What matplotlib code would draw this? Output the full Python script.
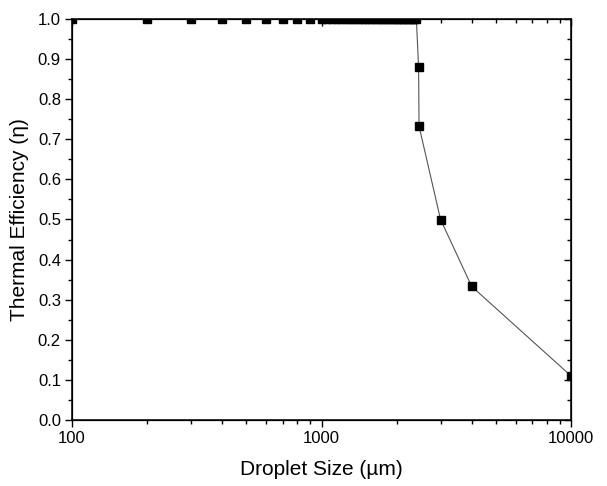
import numpy as np
import matplotlib
matplotlib.use("Agg")
import matplotlib.pyplot as plt
from matplotlib.ticker import LogLocator, MultipleLocator, FixedLocator, NullFormatter

# droplet size (um) and thermal efficiency
sizes_coarse = [100, 200, 300, 400, 500, 600, 700, 800, 900]
sizes_dense = list(range(1000, 2450, 50))
sizes_tail = [2450, 2460, 3000, 4000, 10000]
eff_tail = [0.88, 0.733, 0.50, 0.333, 0.11]

droplet_size = sizes_coarse + sizes_dense + sizes_tail
efficiency = [1.0] * (len(sizes_coarse) + len(sizes_dense)) + eff_tail

plt.rcParams["font.family"] = ["Liberation Sans", "DejaVu Sans"]

fig = plt.figure(figsize=(6.07, 4.86), dpi=100)
ax = fig.add_axes([72 / 607, 1 - 420 / 486, 499 / 607, 401 / 486])

ax.plot(droplet_size, efficiency, color="#555555", linewidth=0.8,
        marker="s", markersize=6, markerfacecolor="black",
        markeredgecolor="black", zorder=3)

ax.set_xscale("log")
ax.set_xlim(100, 10000)
ax.set_ylim(0, 1.0)
ax.yaxis.set_major_locator(MultipleLocator(0.1))
ax.yaxis.set_minor_locator(MultipleLocator(0.05))
ax.xaxis.set_major_locator(FixedLocator([100, 1000, 10000]))
ax.xaxis.set_major_formatter(matplotlib.ticker.FuncFormatter(lambda v, p: f"{int(v)}"))
ax.xaxis.set_minor_locator(LogLocator(base=10, subs=np.arange(2, 10)))
ax.xaxis.set_minor_formatter(NullFormatter())
ax.yaxis.set_major_formatter(matplotlib.ticker.FormatStrFormatter("%.1f"))

ax.tick_params(which="major", direction="out", length=5, width=1, labelsize=12, pad=3)
ax.tick_params(which="minor", direction="out", length=3, width=1)
for spine in ax.spines.values():
    spine.set_linewidth(1.1)

# inward ticks on top and right
top = ax.twiny()
top.set_xscale("log")
top.set_xlim(ax.get_xlim())
top.xaxis.set_major_locator(FixedLocator([100, 1000, 10000]))
top.xaxis.set_minor_locator(LogLocator(base=10, subs=np.arange(2, 10)))
top.tick_params(which="both", direction="in", labeltop=False)
top.tick_params(which="major", length=5, width=1)
top.tick_params(which="minor", length=3, width=1)

right = ax.twinx()
right.set_ylim(ax.get_ylim())
right.yaxis.set_major_locator(MultipleLocator(0.1))
right.yaxis.set_minor_locator(MultipleLocator(0.05))
right.tick_params(which="both", direction="in", labelright=False)
right.tick_params(which="major", length=5, width=1)
right.tick_params(which="minor", length=3, width=1)

ax.set_xlabel("Droplet Size (µm)", fontsize=15, labelpad=10)
ax.set_ylabel("Thermal Efficiency (η)", fontsize=15, labelpad=6)

fig.savefig("out.png", dpi=100)
